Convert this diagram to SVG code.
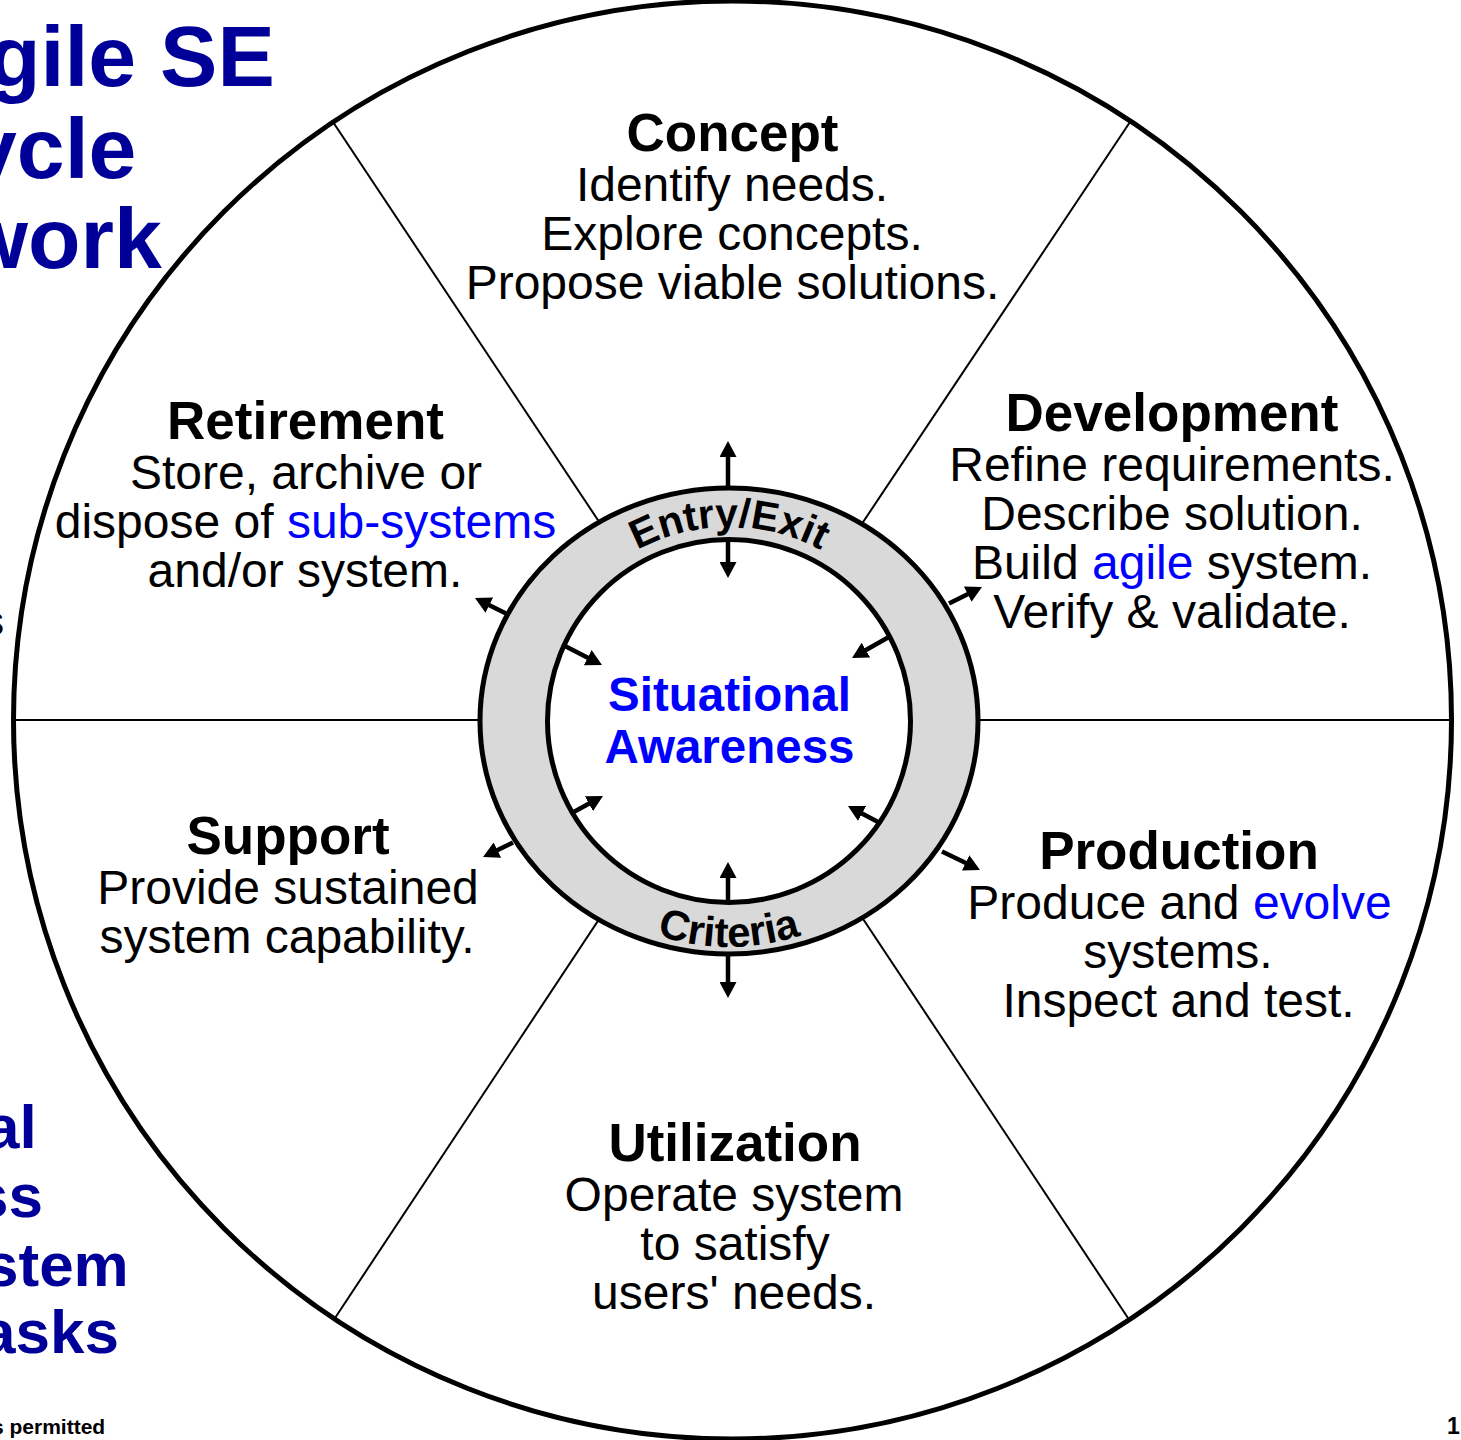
<svg xmlns="http://www.w3.org/2000/svg" width="1461" height="1440" viewBox="0 0 1461 1440">
  <style>
    .title { font-family: "Liberation Sans", Arial, sans-serif; font-weight: bold; font-size: 53px; fill: #000; text-anchor: middle; }
    .body { font-family: "Liberation Sans", Arial, sans-serif; font-size: 48px; fill: #000; text-anchor: middle; }
    .hl { fill: #0000ff; }
    .banner { font-family: "Liberation Sans", Arial, sans-serif; font-weight: bold; fill: #000099; }
    .ringtext { font-family: "Liberation Sans", Arial, sans-serif; font-weight: bold; fill: #000; }
    .center { font-family: "Liberation Sans", Arial, sans-serif; font-weight: bold; font-size: 47.5px; fill: #0000ff; text-anchor: middle; }
    .foot { font-family: "Liberation Sans", Arial, sans-serif; font-weight: bold; fill: #000; }
    .spoke { stroke: #000; stroke-width: 2; fill: none; }
    .arrow { stroke: #000; stroke-width: 4.5; fill: none; marker-end: url(#head); }
  </style>
  <defs>
    <marker id="head" viewBox="0 0 16 17" refX="6" refY="8.5" markerWidth="16" markerHeight="17" markerUnits="userSpaceOnUse" orient="auto">
      <path d="M0,0 L16,8.5 L0,17 z" fill="#000"/>
    </marker>
    <path id="arcTop" d="M535,721 A194,194 0 0 1 923,721"/>
    <path id="arcBottom" d="M503,721 A226,226 0 0 0 955,721"/>
  </defs>

  <rect x="0" y="0" width="1461" height="1440" fill="#fff"/>

  <!-- banner text running off the left edge -->
  <g id="banner">
    <text class="banner" font-size="86" x="-12" y="86">gile SE</text>
    <text class="banner" font-size="86" x="-31" y="178">ycle</text>
    <text class="banner" font-size="86" x="-39" y="268">work</text>
    <text x="-16" y="635" font-family="Liberation Sans, Arial, sans-serif" font-size="40" fill="#000">s</text>
    <text class="banner" font-size="62" x="-15" y="1148">al</text>
    <text class="banner" font-size="62" x="-26" y="1217">ss</text>
    <text class="banner" font-size="62" x="-16" y="1286">stem</text>
    <text class="banner" font-size="62" x="-19" y="1353">asks</text>
    <text class="foot" font-size="21" x="-8" y="1434">s permitted</text>
    <text class="foot" font-size="23" x="1447" y="1434">1</text>
  </g>

  <!-- wheel: outer rim and spokes -->
  <g id="connectors">
    <line class="spoke" x1="12" y1="720" x2="731" y2="720"/>
    <line class="spoke" x1="731" y1="720" x2="1453" y2="720"/>
    <line class="spoke" x1="731" y1="720" x2="333" y2="122"/>
    <line class="spoke" x1="731" y1="720" x2="1130" y2="122"/>
    <line class="spoke" x1="731" y1="720" x2="335" y2="1318"/>
    <line class="spoke" x1="731" y1="720" x2="1128" y2="1318"/>
    <circle cx="732.5" cy="720" r="719" fill="none" stroke="#000" stroke-width="5"/>
  </g>

  <!-- hub: entry/exit criteria ring around situational awareness -->
  <g id="hub">
    <ellipse cx="729" cy="721" rx="249" ry="233" fill="#d9d9d9" stroke="#000" stroke-width="5"/>
    <circle cx="729" cy="721" r="181.5" fill="#fff" stroke="#000" stroke-width="5"/>
    <text class="ringtext" font-size="41"><textPath href="#arcTop" startOffset="50%" text-anchor="middle">Entry/Exit</textPath></text>
    <text class="ringtext" font-size="42"><textPath href="#arcBottom" startOffset="50%" text-anchor="middle">Criteria</textPath></text>
    <text class="center" x="729.5" y="711">Situational</text>
    <text class="center" x="729.5" y="763">Awareness</text>
  </g>

  <!-- flows between the hub and each phase -->
  <g id="arrows">
    <line class="arrow" x1="728" y1="488" x2="728" y2="451"/>
    <line class="arrow" x1="728" y1="539" x2="728" y2="568"/>
    <line class="arrow" x1="728" y1="904" x2="728" y2="872"/>
    <line class="arrow" x1="728" y1="952" x2="728" y2="988"/>
    <line class="arrow" x1="506" y1="613.5" x2="483.9" y2="602.5"/>
    <line class="arrow" x1="564" y1="645.5" x2="593.1" y2="660.4"/>
    <line class="arrow" x1="888" y1="637.5" x2="860.7" y2="653"/>
    <line class="arrow" x1="949" y1="603.5" x2="973.1" y2="591.5"/>
    <line class="arrow" x1="571" y1="813.5" x2="594.2" y2="800.8"/>
    <line class="arrow" x1="513" y1="842.5" x2="492" y2="852.7"/>
    <line class="arrow" x1="879" y1="822.5" x2="856.8" y2="810.7"/>
    <line class="arrow" x1="942" y1="851.5" x2="971" y2="865.6"/>
  </g>

  <g id="phase-concept">
    <text class="title" x="732.5" y="151">Concept</text>
    <text class="body" x="732" y="201">Identify needs.</text>
    <text class="body" x="732" y="250">Explore concepts.</text>
    <text class="body" x="732.5" y="299">Propose viable solutions.</text>
  </g>

  <g id="phase-development">
    <text class="title" x="1172" y="431">Development</text>
    <text class="body" x="1172" y="481">Refine requirements.</text>
    <text class="body" x="1172" y="530">Describe solution.</text>
    <text class="body" x="1172" y="579">Build <tspan class="hl">agile</tspan> system.</text>
    <text class="body" x="1172" y="628">Verify &amp; validate.</text>
  </g>

  <g id="phase-production">
    <text class="title" x="1179" y="869">Production</text>
    <text class="body" x="1179.5" y="919">Produce and <tspan class="hl">evolve</tspan></text>
    <text class="body" x="1178" y="968">systems.</text>
    <text class="body" x="1178.5" y="1017">Inspect and test.</text>
  </g>

  <g id="phase-utilization">
    <text class="title" x="735" y="1161">Utilization</text>
    <text class="body" x="734" y="1211">Operate system</text>
    <text class="body" x="735" y="1260">to satisfy</text>
    <text class="body" x="734" y="1309">users' needs.</text>
  </g>

  <g id="phase-support">
    <text class="title" x="288" y="854">Support</text>
    <text class="body" x="288" y="904">Provide sustained</text>
    <text class="body" x="287" y="953">system capability.</text>
  </g>

  <g id="phase-retirement">
    <text class="title" x="305.5" y="439">Retirement</text>
    <text class="body" x="306" y="489">Store, archive or</text>
    <text class="body" x="305.5" y="538">dispose of <tspan class="hl">sub-systems</tspan></text>
    <text class="body" x="305" y="587">and/or system.</text>
  </g>
</svg>
